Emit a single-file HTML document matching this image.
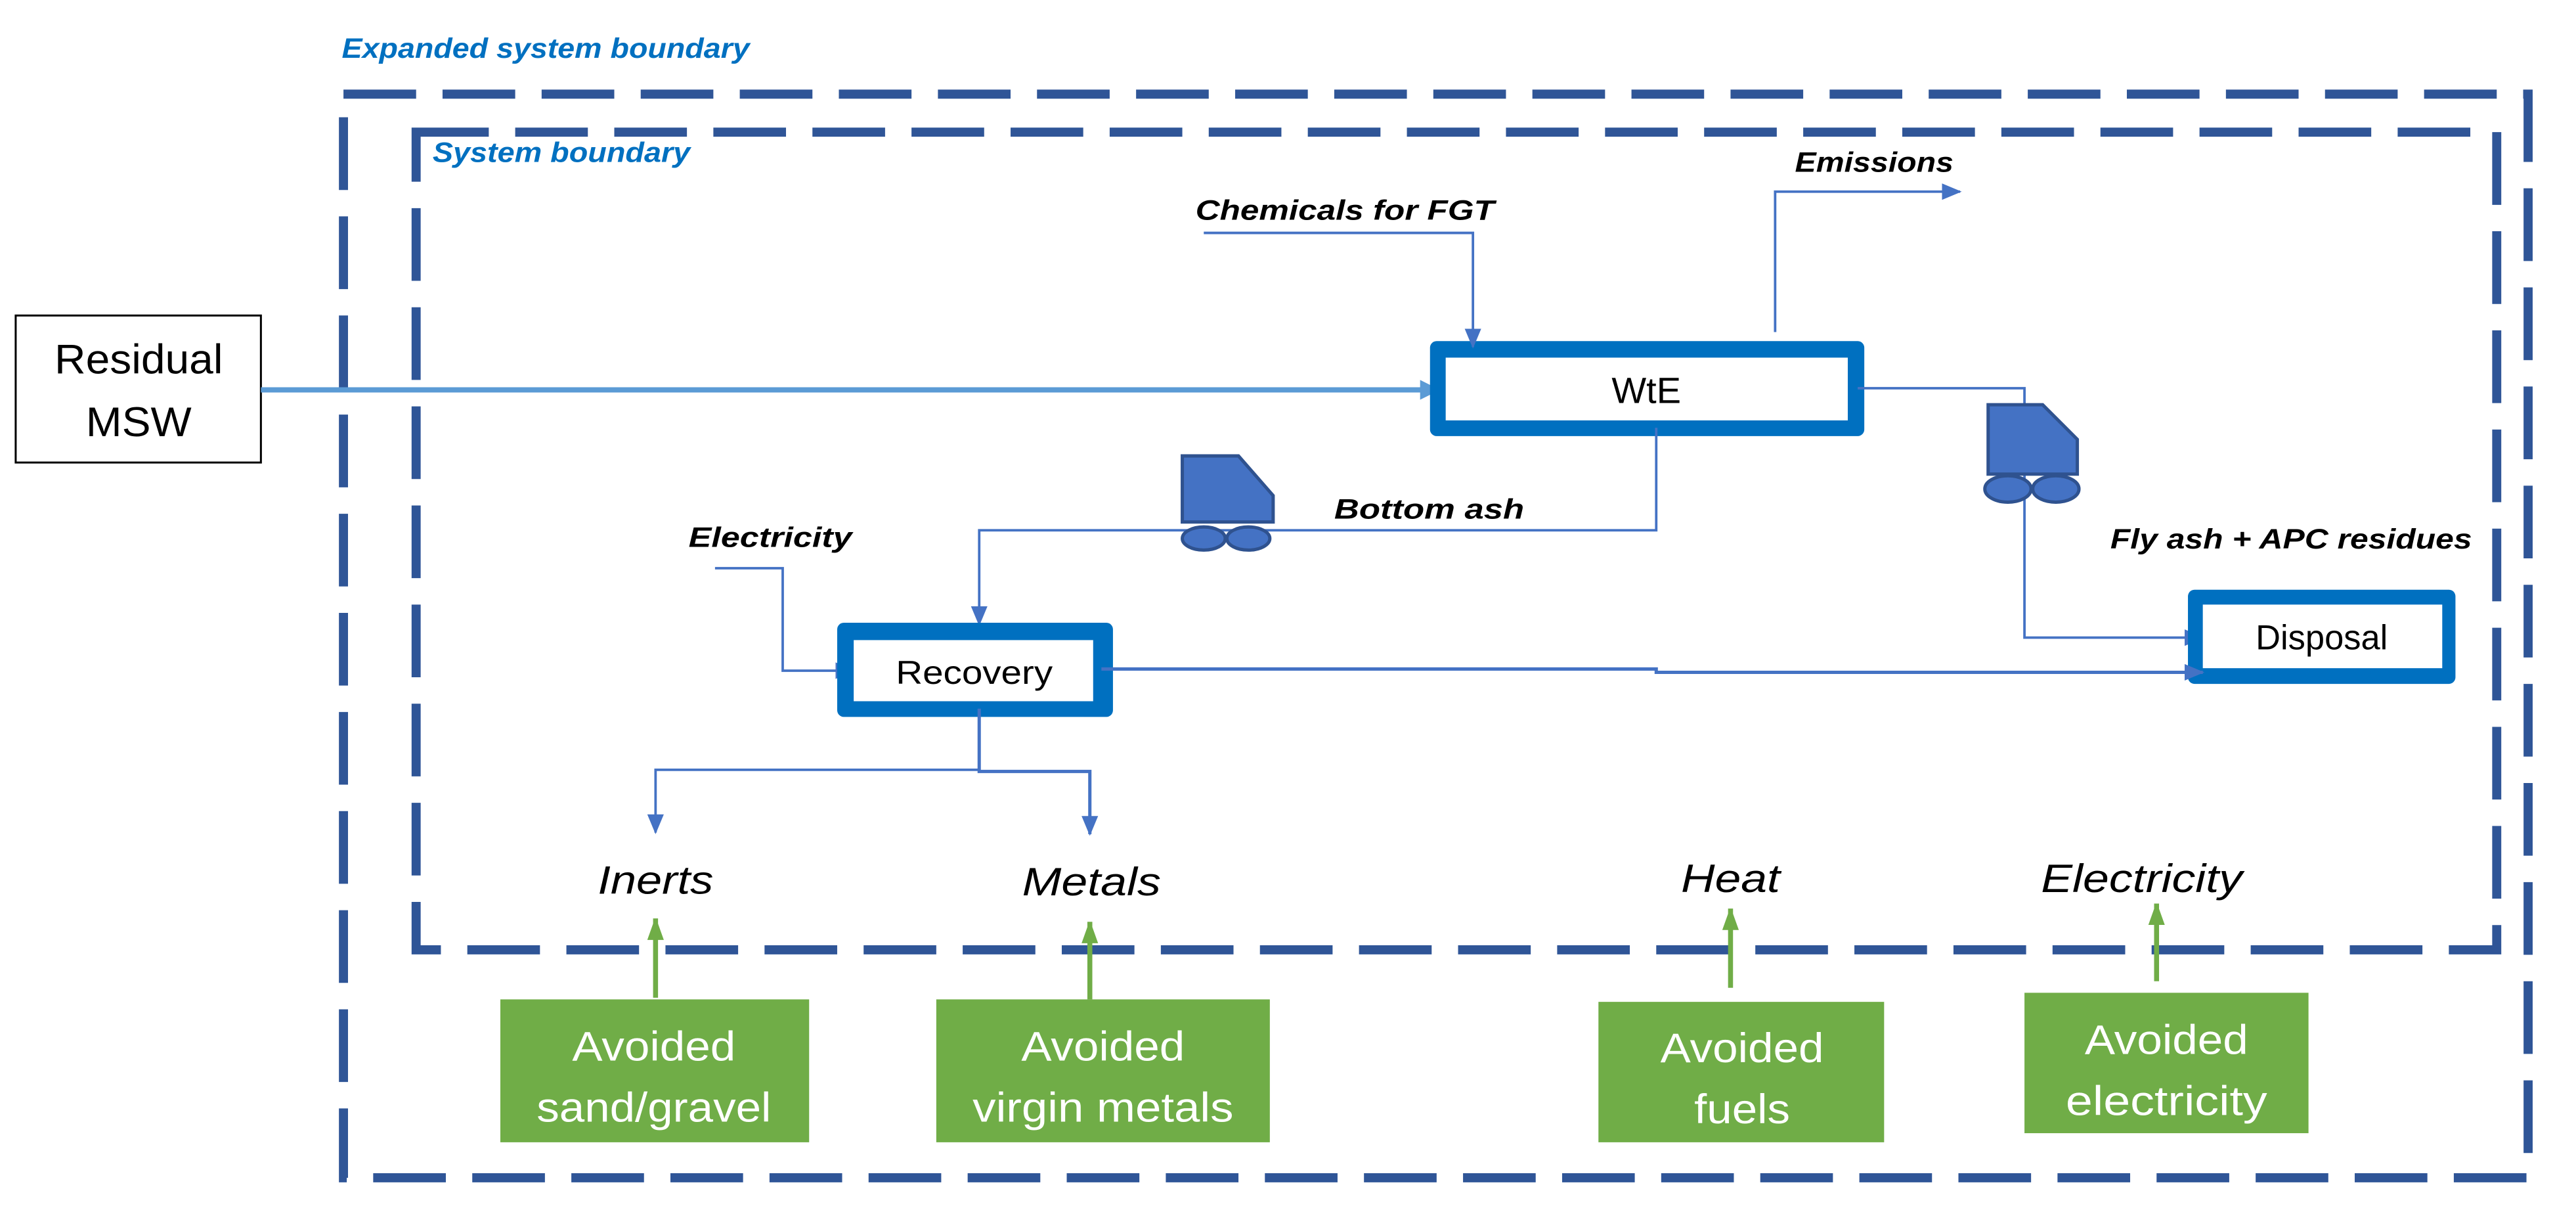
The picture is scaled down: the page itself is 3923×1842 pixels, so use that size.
<!DOCTYPE html>
<html><head><meta charset="utf-8"><style>html,body{margin:0;padding:0;background:#fff}svg{display:block}</style></head>
<body>
<svg width="3923" height="1842" viewBox="0 0 1560 732.5" preserveAspectRatio="none" xmlns="http://www.w3.org/2000/svg">
<defs>
<marker id="a" markerWidth="12" markerHeight="12" refX="11" refY="6" orient="auto" markerUnits="userSpaceOnUse"><path d="M0,1 L12,6 L0,11 z" fill="#4472c4"/></marker>
<marker id="g" markerWidth="10" markerHeight="14" refX="13" refY="5" orient="auto" markerUnits="userSpaceOnUse"><path d="M0,0 L14,5 L0,10 z" fill="#70ad47"/></marker>
<marker id="b" markerWidth="12" markerHeight="12" refX="11" refY="6" orient="auto" markerUnits="userSpaceOnUse"><path d="M0,0 L12,6 L0,12 z" fill="#5b9bd5"/></marker>
</defs>
<g font-family="Liberation Sans, sans-serif">
<rect x="208" y="57" width="1323" height="656" fill="none" stroke="#2f5597" stroke-width="5.5" stroke-dasharray="44 16"/>
<rect x="252" y="80" width="1260" height="495" fill="none" stroke="#2f5597" stroke-width="5.5" stroke-dasharray="44 16"/>
<text x="207" y="35" font-size="17" font-weight="bold" font-style="italic" fill="#0070c0" textLength="247" lengthAdjust="spacingAndGlyphs">Expanded system boundary</text>
<text x="262" y="98" font-size="17" font-weight="bold" font-style="italic" fill="#0070c0" textLength="156" lengthAdjust="spacingAndGlyphs">System boundary</text>

<rect x="9.5" y="191" width="148.5" height="89" fill="#fff" stroke="#000" stroke-width="1.2"/>
<text x="84" y="226" font-size="25" text-anchor="middle" textLength="102" lengthAdjust="spacingAndGlyphs">Residual</text>
<text x="84" y="264" font-size="25" text-anchor="middle" textLength="64" lengthAdjust="spacingAndGlyphs">MSW</text>
<line x1="158" y1="236" x2="871" y2="236" stroke="#5b9bd5" stroke-width="3.2" marker-end="url(#b)"/>

<rect x="866" y="206.5" width="263" height="57.5" rx="4" fill="#0070c0"/>
<rect x="875.5" y="216.5" width="243.5" height="38" fill="#fff"/>
<text x="997" y="244" font-size="22" text-anchor="middle" textLength="42" lengthAdjust="spacingAndGlyphs">WtE</text>

<text x="724" y="133" font-size="17" font-weight="bold" font-style="italic" textLength="181" lengthAdjust="spacingAndGlyphs">Chemicals for FGT</text>
<polyline points="729,141 892,141 892,210" fill="none" stroke="#4472c4" stroke-width="1.5" marker-end="url(#a)"/>

<text x="1087" y="104" font-size="17" font-weight="bold" font-style="italic" textLength="96" lengthAdjust="spacingAndGlyphs">Emissions</text>
<polyline points="1075,201 1075,116 1187,116" fill="none" stroke="#4472c4" stroke-width="1.5" marker-end="url(#a)"/>

<polyline points="1125,235 1226,235 1226,386 1334,386" fill="none" stroke="#4472c4" stroke-width="1.5" marker-end="url(#a)"/>
<polygon points="1204,245 1237,245 1258,266 1258,287 1204,287" fill="#4472c4" stroke="#2f528f" stroke-width="2"/>
<ellipse cx="1216" cy="296" rx="14" ry="8" fill="#4472c4" stroke="#2f528f" stroke-width="2"/>
<ellipse cx="1245" cy="296" rx="14" ry="8" fill="#4472c4" stroke="#2f528f" stroke-width="2"/>
<text x="1278" y="332" font-size="17" font-weight="bold" font-style="italic" textLength="219" lengthAdjust="spacingAndGlyphs">Fly ash + APC residues</text>

<rect x="1325" y="357" width="162" height="57" rx="4" fill="#0070c0"/>
<rect x="1334" y="366" width="145" height="38.5" fill="#fff"/>
<text x="1406" y="393" font-size="21" text-anchor="middle" textLength="80" lengthAdjust="spacingAndGlyphs">Disposal</text>

<polyline points="1003,259 1003,321 593,321 593,378" fill="none" stroke="#4472c4" stroke-width="1.5" marker-end="url(#a)"/>
<polygon points="716,276 750,276 771,300 771,316 716,316" fill="#4472c4" stroke="#2f528f" stroke-width="2"/>
<ellipse cx="729" cy="326" rx="13" ry="7" fill="#4472c4" stroke="#2f528f" stroke-width="2"/>
<ellipse cx="756" cy="326" rx="13" ry="7" fill="#4472c4" stroke="#2f528f" stroke-width="2"/>
<text x="808" y="314" font-size="17" font-weight="bold" font-style="italic" textLength="115" lengthAdjust="spacingAndGlyphs">Bottom ash</text>

<text x="417" y="331" font-size="17" font-weight="bold" font-style="italic" textLength="99" lengthAdjust="spacingAndGlyphs">Electricity</text>
<polyline points="433,344 474,344 474,406 517,406" fill="none" stroke="#4472c4" stroke-width="1.5" marker-end="url(#a)"/>

<rect x="507" y="377" width="167" height="57" rx="4" fill="#0070c0"/>
<rect x="517" y="387.5" width="145" height="37" fill="#fff"/>
<text x="590" y="414" font-size="20" text-anchor="middle" textLength="95" lengthAdjust="spacingAndGlyphs">Recovery</text>
<polyline points="667,405 1003,405 1003,407 1334,407" fill="none" stroke="#4472c4" stroke-width="2" marker-end="url(#a)"/>

<polyline points="593,429 593,467 660,467 660,505" fill="none" stroke="#4472c4" stroke-width="2" marker-end="url(#a)"/>
<polyline points="593,466 397,466 397,504" fill="none" stroke="#4472c4" stroke-width="1.5" marker-end="url(#a)"/>

<g font-size="24" font-style="italic">
<text x="362" y="541" textLength="70" lengthAdjust="spacingAndGlyphs">Inerts</text>
<text x="619" y="542" textLength="84" lengthAdjust="spacingAndGlyphs">Metals</text>
<text x="1018" y="540" textLength="60" lengthAdjust="spacingAndGlyphs">Heat</text>
<text x="1236" y="540" textLength="122" lengthAdjust="spacingAndGlyphs">Electricity</text>
</g>

<g stroke="#70ad47" stroke-width="3">
<line x1="397" y1="604" x2="397" y2="556" marker-end="url(#g)"/>
<line x1="660" y1="605" x2="660" y2="558" marker-end="url(#g)"/>
<line x1="1048" y1="598" x2="1048" y2="550" marker-end="url(#g)"/>
<line x1="1306" y1="594" x2="1306" y2="547" marker-end="url(#g)"/>
</g>

<g fill="#70ad47">
<rect x="303" y="605" width="187" height="86.5"/>
<rect x="567" y="605" width="202" height="86.5"/>
<rect x="968" y="606.5" width="173" height="85"/>
<rect x="1226" y="601" width="172" height="85"/>
</g>
<g fill="#fff" font-size="25" text-anchor="middle">
<text x="396" y="642" textLength="99" lengthAdjust="spacingAndGlyphs">Avoided</text>
<text x="396" y="679" textLength="142" lengthAdjust="spacingAndGlyphs">sand/gravel</text>
<text x="668" y="642" textLength="99" lengthAdjust="spacingAndGlyphs">Avoided</text>
<text x="668" y="679" textLength="158" lengthAdjust="spacingAndGlyphs">virgin metals</text>
<text x="1055" y="643" textLength="99" lengthAdjust="spacingAndGlyphs">Avoided</text>
<text x="1055" y="680" textLength="58" lengthAdjust="spacingAndGlyphs">fuels</text>
<text x="1312" y="638" textLength="99" lengthAdjust="spacingAndGlyphs">Avoided</text>
<text x="1312" y="675" textLength="122" lengthAdjust="spacingAndGlyphs">electricity</text>
</g>
</g>
</svg>
</body></html>
